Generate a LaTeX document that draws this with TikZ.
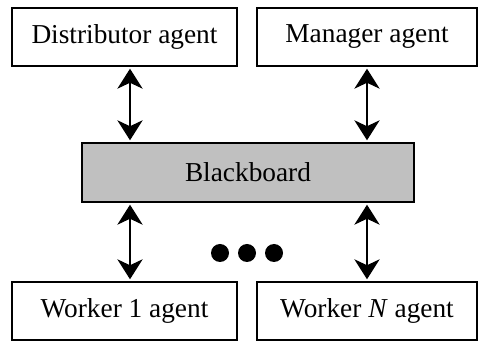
\documentclass[tikz,border=0pt]{standalone}
\usepackage{fontspec}
\setmainfont{Liberation Serif}
\usepackage{tikz}
\usetikzlibrary{arrows.meta}

\tikzset{
  agentbox/.style={draw, line width=1.1pt, fill=white, minimum height=43.5pt, inner sep=0pt, font=\fontsize{20.5}{24}\selectfont},
  boardbox/.style={agentbox, fill={rgb,255:red,192;green,192;blue,192}},
  dblarrow/.style={line width=0.9pt, {Stealth[length=15pt,width=19pt,inset=4.5pt]}-{Stealth[length=15pt,width=19pt,inset=4.5pt]}, shorten <=1.5pt, shorten >=1.5pt},
  dotnode/.style={circle, fill=black, inner sep=0pt, minimum size=13.5pt}
}

\begin{document}
\begin{tikzpicture}[x=0.75pt,y=0.75pt,yscale=-1,xscale=1]
%set diagram left start at 0, and has height of 341
\useasboundingbox (0,0) rectangle (478,341);
%Shape: Rectangle [id:dist]
\node [agentbox, minimum width=168.75pt] (dist) at (124.5,37) {Distributor agent};
%Shape: Rectangle [id:mgr]
\node [agentbox, minimum width=165pt] (mgr) at (367,37) {Manager agent};
%Shape: Rectangle [id:board]
\node [boardbox, minimum width=249pt, minimum height=44.25pt] (board) at (248,172.5) {Blackboard};
%Shape: Rectangle [id:wone]
\node [agentbox, minimum width=168.75pt] (wone) at (124.5,311) {Worker 1 agent};
%Shape: Rectangle [id:wlast]
\node [agentbox, minimum width=165pt] (wlast) at (367,311) {Worker \textit{N} agent};

%Columns of the arrows
\coordinate (lcol) at (130,0);
\coordinate (rcol) at (367,0);

%Straight Lines [id:arrows]
\draw [dblarrow] (dist.south -| lcol) -- (board.north -| lcol);
\draw [dblarrow] (mgr.south -| rcol) -- (board.north -| rcol);
\draw [dblarrow] (board.south -| lcol) -- (wone.north -| lcol);
\draw [dblarrow] (board.south -| rcol) -- (wlast.north -| rcol);

%Shape: Circle [id:dots]
\node [dotnode] (dotone) at (220,253) {};
\node [dotnode] (dottwo) at (247,253) {};
\node [dotnode] (dotthree) at (274,253) {};

\end{tikzpicture}
\end{document}
